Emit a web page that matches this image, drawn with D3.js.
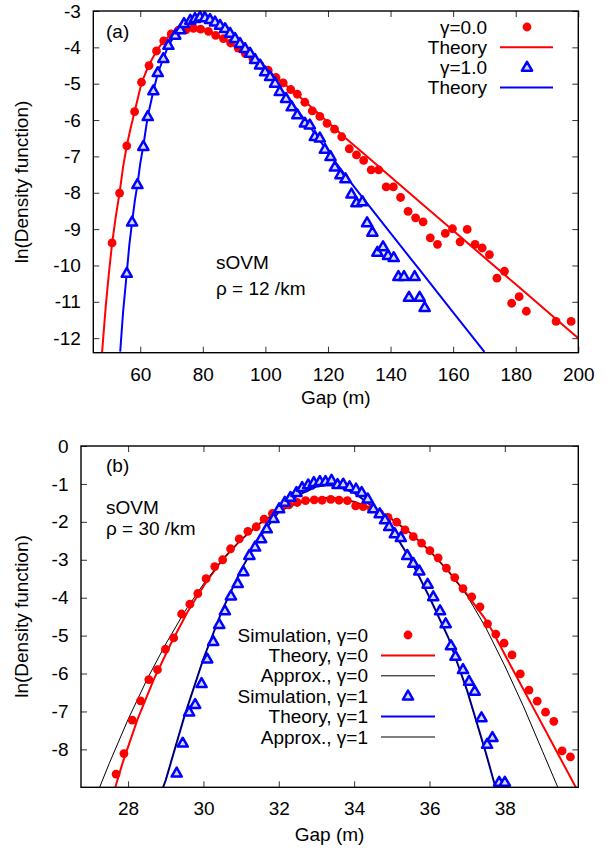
<!DOCTYPE html>
<html><head><meta charset="utf-8">
<script src="https://cdn.jsdelivr.net/npm/d3@7"></script>
<style>
html,body{margin:0;padding:0;background:#fff;}
svg text{font-family:"Liberation Sans",Arial,sans-serif;font-size:19px;fill:#000;}
</style></head>
<body>
<svg id="c" width="609" height="850"></svg>
<script>
// ---------- Panel (a) data : rho = 12 /km ----------
const gapA_sim0 = [51.0,53.4,55.7,58.2,60.4,62.8,65.2,67.5,69.9,72.2,74.6,77.0,79.3,81.8,84.1,86.6,88.9,91.3,93.6,96.0,98.3,100.9,103.4,105.7,108.1,110.2,112.6,115.0,117.4,119.7,122.1,124.4,126.8,129.1,131.4,133.8,136.2,138.6,140.9,143.2,145.6,148.0,150.4,152.7,155.0,157.5,159.8,162.2,164.5,167.0,169.3,171.6,174.0,176.4,178.7,181.1,183.4,192.9,197.7];
const lnA_sim0 = [-9.38,-8.01,-6.71,-5.77,-4.96,-4.50,-4.10,-3.82,-3.63,-3.53,-3.52,-3.48,-3.50,-3.56,-3.67,-3.76,-3.88,-4.02,-4.17,-4.31,-4.49,-4.63,-4.83,-4.98,-5.16,-5.29,-5.51,-5.75,-5.90,-6.09,-6.25,-6.46,-6.79,-6.96,-7.11,-7.37,-7.37,-7.84,-7.84,-8.13,-8.51,-8.69,-8.80,-9.24,-9.42,-9.12,-8.99,-9.35,-9.01,-9.42,-9.52,-9.70,-10.35,-10.16,-11.04,-10.86,-11.26,-11.54,-11.54];
const gapA_sim1 = [55.7,57.4,59.1,61.0,62.4,64.2,65.6,67.4,69.0,71.2,72.8,74.0,76.0,77.5,79.1,80.7,82.3,83.9,85.5,87.1,88.7,90.3,91.9,93.5,95.1,96.7,98.3,99.9,101.5,103.1,104.6,106.6,108.4,110.2,112.6,114.2,115.8,117.4,119.0,120.8,122.2,124.0,125.6,127.5,129.1,131.0,132.5,134.2,135.8,137.6,139.2,141.0,142.5,144.3,145.9,147.7,149.3,150.9];
const lnA_sim1 = [-10.22,-8.81,-7.78,-6.73,-5.91,-5.20,-4.70,-4.31,-3.95,-3.67,-3.52,-3.35,-3.26,-3.21,-3.17,-3.19,-3.24,-3.31,-3.40,-3.49,-3.62,-3.76,-3.90,-4.04,-4.17,-4.34,-4.49,-4.68,-4.81,-4.99,-5.22,-5.41,-5.64,-5.86,-6.09,-6.14,-6.46,-6.50,-6.81,-7.01,-7.30,-7.51,-7.62,-8.04,-8.28,-8.25,-8.83,-9.09,-9.64,-9.49,-9.73,-9.79,-10.31,-10.31,-10.88,-10.31,-10.88,-11.16];
const gapA_th0 = [47.8,49,50,51,52.2,53.4,54.5,55.7,57,58.2,60.4,62.8,65.2,67.5,70,72.5,75,77.5,80,82.5,85,90,95,100,105,110,115,120,125,130,140,150,160,170,180,190,200];
const lnA_th0 = [-12.4,-11.1,-10.2,-9.4,-8.65,-8.0,-7.3,-6.7,-6.2,-5.77,-4.98,-4.48,-4.1,-3.82,-3.64,-3.54,-3.49,-3.47,-3.5,-3.58,-3.69,-3.96,-4.25,-4.58,-4.93,-5.29,-5.67,-6.06,-6.45,-6.82,-7.56,-8.30,-9.04,-9.78,-10.52,-11.26,-12.0];
const gapA_th1 = [53.6,54.5,55.7,56.5,57.4,58.3,59.1,60,61,62.4,64.2,65.6,67.4,69,71,73,75,77,79,81,83,85,87,90,95,100,105,110,115,120,125,130,140,150,160,170];
const lnA_th1 = [-12.37,-11.3,-10.2,-9.45,-8.8,-8.2,-7.78,-7.2,-6.7,-5.9,-5.2,-4.72,-4.3,-3.95,-3.67,-3.45,-3.3,-3.21,-3.18,-3.2,-3.27,-3.37,-3.49,-3.72,-4.14,-4.62,-5.15,-5.7,-6.28,-6.88,-7.46,-8.02,-9.11,-10.2,-11.29,-12.38];
const xTicksA = [60,80,100,120,140,160,180,200];
const yTicksA = [-3,-4,-5,-6,-7,-8,-9,-10,-11,-12];

// ---------- Panel (b) data : rho = 30 /km ----------
const gapB_sim0 = [27.68,27.89,28.11,28.33,28.55,28.78,28.99,29.21,29.42,29.64,29.85,30.07,30.30,30.51,30.72,30.95,31.18,31.40,31.61,31.83,32.05,32.27,32.49,32.71,32.94,33.15,33.38,33.60,33.82,34.04,34.24,34.46,34.68,34.90,35.13,35.35,35.57,35.79,36.01,36.23,36.45,36.67,36.89,37.12,37.34,37.54,37.76,37.98,38.19,38.41,38.64,38.86,39.08,39.30,39.52,39.74];
const lnB_sim0 = [-8.65,-8.11,-7.23,-6.72,-6.16,-5.90,-5.36,-5.06,-4.43,-4.17,-3.89,-3.50,-3.18,-3.00,-2.71,-2.45,-2.25,-2.13,-1.93,-1.78,-1.64,-1.55,-1.49,-1.44,-1.42,-1.43,-1.41,-1.43,-1.44,-1.58,-1.60,-1.66,-1.78,-1.88,-2.01,-2.21,-2.39,-2.56,-2.76,-2.95,-3.22,-3.47,-3.76,-3.98,-4.24,-4.69,-4.96,-5.20,-5.51,-6.01,-6.44,-6.73,-7.02,-7.26,-8.04,-8.20];
const gapB_sim1 = [29.29,29.45,29.62,29.78,29.95,30.10,30.26,30.42,30.57,30.73,30.91,31.06,31.22,31.37,31.53,31.68,31.86,32.01,32.16,32.31,32.47,32.62,32.78,32.93,33.09,33.24,33.40,33.56,33.71,33.88,34.05,34.20,34.36,34.51,34.68,34.82,34.93,35.08,35.24,35.41,35.57,35.73,35.95,36.10,36.28,36.43,36.57,36.69,36.89,37.05,37.20,37.38,37.53,37.67,37.85,38.00];
const lnB_sim1 = [-8.63,-7.84,-7.02,-6.82,-6.27,-5.62,-5.16,-4.71,-4.35,-3.96,-3.63,-3.32,-2.89,-2.67,-2.45,-2.19,-1.92,-1.66,-1.49,-1.36,-1.23,-1.10,-1.03,-0.97,-0.94,-0.94,-0.91,-1.02,-1.01,-1.08,-1.14,-1.23,-1.40,-1.66,-1.79,-1.95,-2.13,-2.32,-2.42,-2.89,-3.10,-3.30,-3.65,-3.98,-4.35,-4.69,-5.27,-5.55,-5.90,-6.21,-6.47,-7.17,-7.87,-7.69,-8.87,-8.87];
const gapB_th0 = [27.66,27.85,28.25,28.68,29.13,29.58,30.04,30.5,31.0,31.5,32.0,32.5,33.0,33.3,33.5,34.0,34.5,35.0,35.5,36.0,36.5,37.0,37.47,37.67,38.16,38.71,39.32,39.9];
const lnB_th0 = [-9.0,-8.37,-7.21,-6.16,-5.22,-4.37,-3.64,-3.0,-2.47,-2.04,-1.72,-1.50,-1.39,-1.37,-1.38,-1.47,-1.65,-1.93,-2.30,-2.76,-3.30,-3.92,-4.55,-4.88,-5.80,-6.82,-7.95,-9.03];
const gapB_ap0 = [27.2,27.5,28.0,28.5,29.0,29.5,30.0,30.5,31.0,31.5,32.0,32.5,33.0,33.3,33.5,34.0,34.5,35.0,35.5,36.0,36.5,37.0,37.5,38.0,38.5,39.0,39.45];
const lnB_ap0 = [-9.11,-8.37,-7.21,-6.16,-5.22,-4.37,-3.64,-3.0,-2.47,-2.04,-1.72,-1.50,-1.39,-1.37,-1.38,-1.47,-1.65,-1.93,-2.30,-2.76,-3.30,-3.95,-4.80,-5.80,-6.88,-8.05,-9.10];
const gapB_th1 = [28.93,29.0,29.5,30.0,30.5,31.0,31.5,32.0,32.5,33.0,33.3,33.5,34.0,34.5,35.0,35.5,36.0,36.5,37.0,37.5,37.75];
const lnB_th1 = [-9.0,-8.81,-7.11,-5.61,-4.33,-3.26,-2.39,-1.74,-1.30,-1.07,-1.03,-1.05,-1.23,-1.61,-2.20,-3.00,-3.99,-5.05,-6.45,-8.1,-9.0];
const gapB_ap1 = [28.92,29.0,29.5,30.0,30.5,31.0,31.5,32.0,32.5,33.0,33.3,33.5,34.0,34.5,35.0,35.5,36.0,36.5,37.0,37.5,37.76];
const lnB_ap1 = [-9.02,-8.80,-7.10,-5.60,-4.33,-3.26,-2.39,-1.74,-1.30,-1.07,-1.03,-1.05,-1.23,-1.61,-2.20,-3.00,-3.99,-5.06,-6.46,-8.12,-9.02];
const xTicksB = [28,30,32,34,36,38];
const yTicksB = [0,-1,-2,-3,-4,-5,-6,-7,-8];

const legendA = ["γ=0.0","Theory","γ=1.0","Theory"];
const legendB = ["Simulation, γ=0","Theory, γ=0","Approx., γ=0","Simulation, γ=1","Theory, γ=1","Approx., γ=1"];

const RED = "#ff0000", BLUE = "#0000ff", TRIFILL = "#d8d8ff";
const svg = d3.select("#c");
const zip = (a,b) => a.map((v,i)=>[v,b[i]]);
const triPath = "M0,-5.6L5.1,3.3L-5.1,3.3Z";

function panel(cfg){
  const {id,L,R,T,B,xd,yd,xt,yt} = cfg;
  const x = d3.scaleLinear().domain(xd).range([L,R]);
  const y = d3.scaleLinear().domain(yd).range([B,T]);
  const g = svg.append("g");
  g.append("clipPath").attr("id","clip"+id).append("rect")
    .attr("x",L).attr("y",T).attr("width",R-L).attr("height",B-T);
  const fmt = d => String(d);
  const ax = (sel)=>{sel.select(".domain").remove(); sel.selectAll(".tick line").attr("stroke","#333").attr("stroke-width",1);
    sel.selectAll("text").attr("font-size",null).attr("font-family",null).attr("fill",null);};
  g.append("g").attr("transform",`translate(0,${B})`)
    .call(d3.axisBottom(x).tickValues(xt).tickFormat(fmt).tickSize(-6).tickPadding(14.5)).call(ax);
  g.append("g").attr("transform",`translate(0,${T})`)
    .call(d3.axisTop(x).tickValues(xt).tickFormat("").tickSize(-6)).call(ax);
  g.append("g").attr("transform",`translate(${L},0)`)
    .call(d3.axisLeft(y).tickValues(yt).tickFormat(fmt).tickSize(-6).tickPadding(12.5)).call(ax);
  g.append("g").attr("transform",`translate(${R},0)`)
    .call(d3.axisRight(y).tickValues(yt).tickFormat("").tickSize(-6)).call(ax);
  g.selectAll(".tick text").style("font-size","19px");
  const line = d3.line().x(d=>x(d[0])).y(d=>y(d[1]));
  const plot = g.append("g").attr("clip-path",`url(#clip${id})`);
  return {x,y,g,plot,line};
}

// ----- Panel (a)
const A = panel({id:"a",L:93.3,R:578.3,T:11,B:352.7,xd:[45,200],yd:[-12.4,-3],xt:xTicksA,yt:yTicksA});
A.plot.append("path").attr("d",A.line(zip(gapA_th0,lnA_th0))).attr("fill","none").attr("stroke",RED).attr("stroke-width",2);
A.plot.append("path").attr("d",A.line(zip(gapA_th1,lnA_th1))).attr("fill","none").attr("stroke",BLUE).attr("stroke-width",2);
A.g.append("g").selectAll("circle").data(zip(gapA_sim0,lnA_sim0)).join("circle")
  .attr("cx",d=>A.x(d[0])).attr("cy",d=>A.y(d[1])).attr("r",4.4).attr("fill",RED);
A.g.append("g").selectAll("path").data(zip(gapA_sim1,lnA_sim1)).join("path")
  .attr("d",triPath).attr("transform",d=>`translate(${A.x(d[0])},${A.y(d[1])})`)
  .attr("fill",TRIFILL).attr("stroke",BLUE).attr("stroke-width",2.5).attr("stroke-linejoin","round");
A.g.append("rect").attr("x",93.3).attr("y",11).attr("width",485).attr("height",341.7).attr("fill","none").attr("stroke","#000").attr("stroke-width",1.4);

// legend (a)
const lgA = A.g.append("g");
legendA.forEach((t,i)=>{
  const yy = 27 + i*20.2;
  lgA.append("text").attr("x",487).attr("y",yy).attr("dy","0.35em").attr("text-anchor","end").text(t);
  if(i===0) lgA.append("circle").attr("cx",527).attr("cy",yy).attr("r",4.4).attr("fill",RED);
  if(i===2) lgA.append("path").attr("d",triPath).attr("transform",`translate(527,${yy})`).attr("fill",TRIFILL).attr("stroke",BLUE).attr("stroke-width",2.5).attr("stroke-linejoin","round");
  if(i===1||i===3) lgA.append("line").attr("x1",500).attr("x2",553).attr("y1",yy).attr("y2",yy).attr("stroke",i===1?RED:BLUE).attr("stroke-width",2);
});
A.g.append("text").attr("x",106).attr("y",31.5).attr("dy","0.35em").text("(a)");
A.g.append("text").attr("x",216).attr("y",262).attr("dy","0.35em").text("sOVM");
A.g.append("text").attr("x",216).attr("y",288).attr("dy","0.35em").text("ρ = 12 /km");
A.g.append("text").attr("x",335.8).attr("y",397).attr("dy","0.35em").attr("text-anchor","middle").text("Gap (m)");
A.g.append("text").attr("transform","translate(21,182) rotate(-90)").attr("dy","0.35em").attr("text-anchor","middle").text("ln(Density function)");

// ----- Panel (b)
const Bp = panel({id:"b",L:81,R:578.3,T:446,B:787.3,xd:[26.75,39.95],yd:[-9,0],xt:xTicksB,yt:yTicksB});
Bp.plot.append("path").attr("d",Bp.line(zip(gapB_th0,lnB_th0))).attr("fill","none").attr("stroke",RED).attr("stroke-width",2);
Bp.plot.append("path").attr("d",Bp.line(zip(gapB_ap0,lnB_ap0))).attr("fill","none").attr("stroke","#000").attr("stroke-width",1);
Bp.plot.append("path").attr("d",Bp.line(zip(gapB_th1,lnB_th1))).attr("fill","none").attr("stroke",BLUE).attr("stroke-width",2);
Bp.plot.append("path").attr("d",Bp.line(zip(gapB_ap1,lnB_ap1))).attr("fill","none").attr("stroke","#000").attr("stroke-width",1);
Bp.g.append("g").selectAll("circle").data(zip(gapB_sim0,lnB_sim0)).join("circle")
  .attr("cx",d=>Bp.x(d[0])).attr("cy",d=>Bp.y(d[1])).attr("r",4.4).attr("fill",RED);
Bp.g.append("g").selectAll("path").data(zip(gapB_sim1,lnB_sim1)).join("path")
  .attr("d",triPath).attr("transform",d=>`translate(${Bp.x(d[0])},${Bp.y(d[1])})`)
  .attr("fill",TRIFILL).attr("stroke",BLUE).attr("stroke-width",2.5).attr("stroke-linejoin","round");
Bp.g.append("rect").attr("x",81).attr("y",446).attr("width",497.3).attr("height",341.3).attr("fill","none").attr("stroke","#000").attr("stroke-width",1.4);

const lgB = Bp.g.append("g");
legendB.forEach((t,i)=>{
  const yy = 635 + i*20.4;
  lgB.append("text").attr("x",368).attr("y",yy).attr("dy","0.35em").attr("text-anchor","end").text(t);
  if(i===0) lgB.append("circle").attr("cx",408).attr("cy",yy).attr("r",4.4).attr("fill",RED);
  if(i===3) lgB.append("path").attr("d",triPath).attr("transform",`translate(408,${yy})`).attr("fill",TRIFILL).attr("stroke",BLUE).attr("stroke-width",2.5).attr("stroke-linejoin","round");
  if(i===1||i===4) lgB.append("line").attr("x1",381).attr("x2",435).attr("y1",yy).attr("y2",yy).attr("stroke",i===1?RED:BLUE).attr("stroke-width",2);
  if(i===2||i===5) lgB.append("line").attr("x1",381).attr("x2",435).attr("y1",yy).attr("y2",yy).attr("stroke","#000").attr("stroke-width",1);
});
Bp.g.append("text").attr("x",106).attr("y",465).attr("dy","0.35em").text("(b)");
Bp.g.append("text").attr("x",106).attr("y",507).attr("dy","0.35em").text("sOVM");
Bp.g.append("text").attr("x",106).attr("y",528).attr("dy","0.35em").text("ρ = 30 /km");
Bp.g.append("text").attr("x",329.6).attr("y",834).attr("dy","0.35em").attr("text-anchor","middle").text("Gap (m)");
Bp.g.append("text").attr("transform","translate(21,616.5) rotate(-90)").attr("dy","0.35em").attr("text-anchor","middle").text("ln(Density function)");
</script>
</body></html>
